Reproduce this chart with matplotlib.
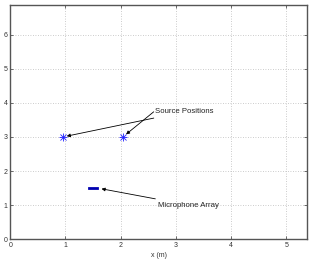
import matplotlib
matplotlib.use('Agg')
import matplotlib.pyplot as plt

plt.rcParams['font.family'] = ['Liberation Sans', 'DejaVu Sans']

source_x = [0.95, 2.04]
source_y = [3.0, 3.0]
mic_x = [1.42, 1.47, 1.52, 1.57]
mic_y = [1.5, 1.5, 1.5, 1.5]
xticks = [0, 1, 2, 3, 4, 5]
yticks = [0, 1, 2, 3, 4, 5, 6]

fig = plt.figure(figsize=(3.09, 2.61), dpi=100)
ax = fig.add_axes([0.033, 0.084, 0.961, 0.897])

# matlab style asterisk = plus + cross
ax.plot(source_x, source_y, linestyle='none', marker='x', color='#2020ff',
        markersize=4, markeredgewidth=0.6)
ax.plot(source_x, source_y, linestyle='none', marker='+', color='#2020ff',
        markersize=5.5, markeredgewidth=0.6)
ax.plot(mic_x, mic_y, color='#0000b0', linewidth=2)

arr = dict(arrowstyle='-|>', color='black', lw=0.6, mutation_scale=5,
           shrinkA=0, shrinkB=3)
ax.annotate('Source Positions', xy=(source_x[0], source_y[0]), xytext=(2.62, 3.74),
            fontsize=5.6, va='center', arrowprops=arr, color='#222222')
ax.annotate('', xy=(source_x[1], source_y[1]), xytext=(2.6, 3.74), arrowprops=arr)
ax.annotate('Microphone Array', xy=(1.58, 1.5), xytext=(2.68, 1.0),
            fontsize=5.6, va='center', arrowprops=arr, color='#222222')

ax.set_xlim(0, 5.38)
ax.set_ylim(0, 6.88)
ax.set_xticks(xticks)
ax.set_yticks(yticks)
ax.tick_params(direction='in', labelsize=5, length=2, width=0.5, pad=2,
               top=True, right=True, colors='#333333')
ax.grid(True, linestyle=(0, (1, 2)), color='#bbbbbb', linewidth=0.6)
for s in ax.spines.values():
    s.set_color('#555555')
    s.set_linewidth(1.0)
ax.set_xlabel('x (m)', fontsize=5, labelpad=2, color='#333333')
ax.set_ylabel('y (m)', fontsize=5, labelpad=2, color='#333333')

fig.savefig('out.png', dpi=100)
